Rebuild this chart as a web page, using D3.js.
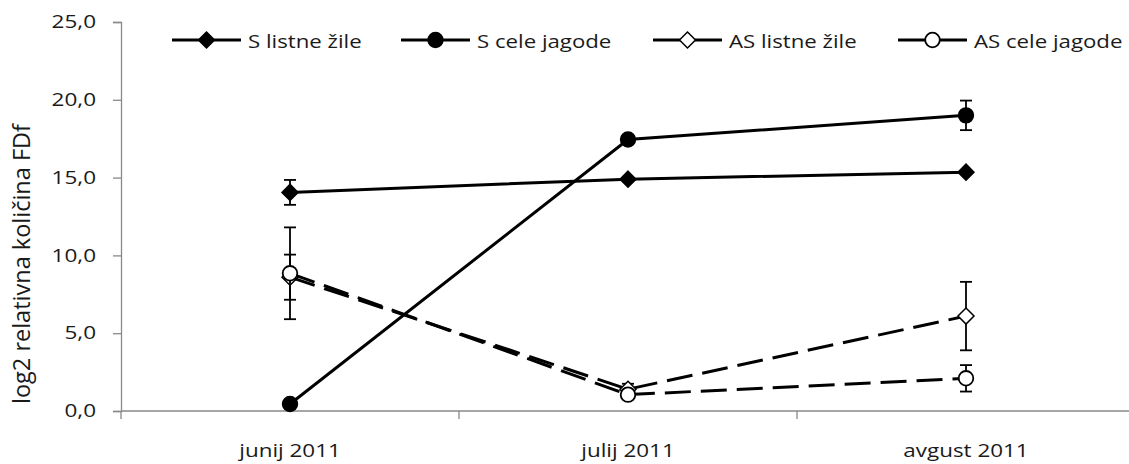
<!DOCTYPE html>
<html>
<head>
<meta charset="utf-8">
<script src="https://cdn.jsdelivr.net/npm/d3@7"></script>
<style>
  html, body { margin: 0; padding: 0; background: #fff; }
  svg { display: block; font-family: "Open Sans", sans-serif; }
  svg text { font-family: "Open Sans", sans-serif; }
</style>
</head>
<body>
<svg id="chart" width="1129" height="464"></svg>
<script>
// Months (categories)
const months = ["junij 2011", "julij 2011", "avgust 2011"];
const yTicks = [0, 5, 10, 15, 20, 25];

// Series means and error (±) per month
const sListneZile = [14.05, 14.9, 15.35];
const sListneZileErr = [0.8, 0, 0];
const sCeleJagode = [0.45, 17.45, 19.0];
const sCeleJagodeErr = [0, 0, 0.95];
const asListneZile = [8.6, 1.4, 6.1];
const asListneZileErr = [1.45, 0.35, 2.2];
const asCeleJagode = [8.85, 1.05, 2.1];
const asCeleJagodeErr = [2.95, 0.25, 0.85];

const seriesNames = ["S listne žile", "S cele jagode", "AS listne žile", "AS cele jagode"];

const series = [
  { name: seriesNames[0], values: sListneZile, err: sListneZileErr, marker: "diamond", filled: true, dashed: false },
  { name: seriesNames[1], values: sCeleJagode, err: sCeleJagodeErr, marker: "circle", filled: true, dashed: false },
  { name: seriesNames[2], values: asListneZile, err: asListneZileErr, marker: "diamond", filled: false, dashed: true },
  { name: seriesNames[3], values: asCeleJagode, err: asCeleJagodeErr, marker: "circle", filled: false, dashed: true }
];

const svg = d3.select("#chart");
const plotLeft = 121, plotRight = 1135, plotTop = 22, plotBottom = 411;

const x = d3.scaleBand().domain(months).range([plotLeft, plotRight]);
const y = d3.scaleLinear().domain([0, 25]).range([plotBottom, plotTop]);
const cx = m => x(m) + x.bandwidth() / 2;

const axisColor = "#898989";
const textColor = "#1a1a1a";
const wide = 1.18; // horizontal stretch of the label glyphs

// Y axis
const yAxis = svg.append("g").attr("transform", `translate(${plotLeft},0)`)
  .call(d3.axisLeft(y).tickValues(yTicks).tickSize(8)
    .tickFormat(d => d3.format(".1f")(d).replace(".", ",")));
yAxis.attr("font-family", null).attr("font-size", null);
yAxis.select(".domain").attr("stroke", axisColor).attr("stroke-width", 1.3);
yAxis.selectAll(".tick line").attr("stroke", axisColor).attr("stroke-width", 1.3);
yAxis.selectAll(".tick text").attr("fill", textColor)
  .style("font-size", "18px")
  .attr("x", -25 / 1.25).attr("transform", "scale(1.25,1)");

// X axis with ticks on category boundaries
const xg = svg.append("g").attr("transform", `translate(0,${plotBottom})`);
xg.append("line").attr("x1", plotLeft).attr("x2", plotRight).attr("y1", 0).attr("y2", 0)
  .attr("stroke", axisColor).attr("stroke-width", 1.3);
const bounds = months.map(m => x(m)).concat([x(months[months.length - 1]) + x.bandwidth()]);
xg.selectAll("line.tk").data(bounds).join("line").attr("class", "tk")
  .attr("x1", d => d).attr("x2", d => d).attr("y1", 0).attr("y2", 8)
  .attr("stroke", axisColor).attr("stroke-width", 1.3);
xg.selectAll("text").data(months).join("text")
  .attr("transform", d => `translate(${cx(d)},46) scale(${wide},1)`)
  .attr("text-anchor", "middle").style("font-size", "19px")
  .attr("fill", textColor).text(d => d);

// Y axis title
svg.append("text")
  .attr("transform", "translate(30,264) rotate(-90)")
  .attr("text-anchor", "middle").attr("fill", textColor)
  .style("font-size", "23.5px")
  .text("log2 relativna količina FDf");

function drawMarker(g, type, filled, px, py) {
  if (type === "circle") {
    g.append("circle").attr("cx", px).attr("cy", py).attr("r", 7.3)
      .attr("fill", filled ? "#000" : "#fff").attr("stroke", "#000").attr("stroke-width", 1.8);
  } else {
    const s = 8;
    g.append("path")
      .attr("d", `M${px},${py - s}L${px + s},${py}L${px},${py + s}L${px - s},${py}Z`)
      .attr("fill", filled ? "#000" : "#fff").attr("stroke", "#000").attr("stroke-width", 1.5);
  }
}

const plot = svg.append("g");
const line = d3.line().x((d, i) => cx(months[i])).y(d => y(d));

// Draw in series order: error bars, line, markers
series.forEach(s => {
  const g = plot.append("g");
  s.values.forEach((v, i) => {
    const e = s.err[i];
    if (!e) return;
    const px = cx(months[i]);
    g.append("line").attr("x1", px).attr("x2", px).attr("y1", y(v + e)).attr("y2", y(v - e))
      .attr("stroke", "#000").attr("stroke-width", 1.8);
    [v + e, v - e].forEach(t => {
      g.append("line").attr("x1", px - 6).attr("x2", px + 6).attr("y1", y(t)).attr("y2", y(t))
        .attr("stroke", "#000").attr("stroke-width", 1.8);
    });
  });
  g.append("path").datum(s.values).attr("d", line)
    .attr("fill", "none").attr("stroke", "#000").attr("stroke-width", 3)
    .attr("stroke-dasharray", s.dashed ? "26,10" : null);
  s.values.forEach((v, i) => drawMarker(g, s.marker, s.filled, cx(months[i]), y(v)));
});

// Legend
const legendX = [172, 401, 653, 898];
const legendLen = 69;
const legendY = 40;
const lg = svg.append("g");
series.forEach((s, i) => {
  const x0 = legendX[i], x1 = legendX[i] + legendLen, mid = (x0 + x1) / 2;
  lg.append("line").attr("x1", x0).attr("x2", x1).attr("y1", legendY).attr("y2", legendY)
    .attr("stroke", "#000").attr("stroke-width", 3);
  drawMarker(lg, s.marker, s.filled, mid, legendY);
  lg.append("text").attr("transform", `translate(${x1 + 7},${legendY + 8}) scale(1.17,1)`)
    .style("font-size", "19px").attr("fill", textColor).text(s.name);
});
</script>
</body>
</html>
